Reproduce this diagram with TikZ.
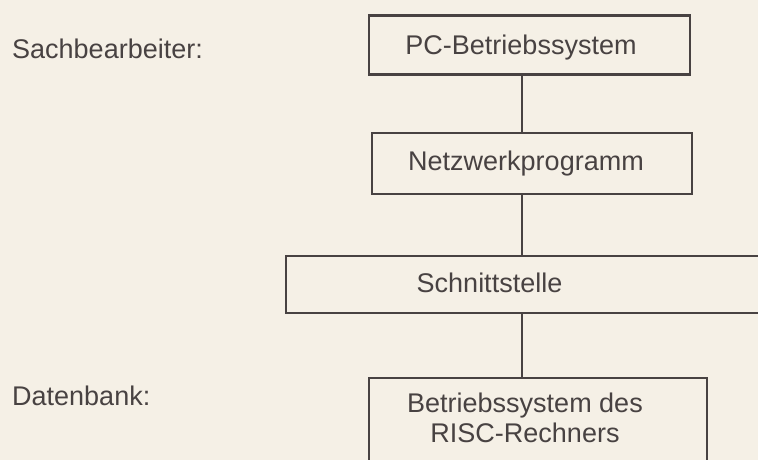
\documentclass[tikz,border=0pt]{standalone}
\usepackage{fontspec}
\setmainfont{Liberation Sans}
\definecolor{paper}{RGB}{245,240,230}
\definecolor{ink}{RGB}{72,66,66}
\begin{document}
\begin{tikzpicture}[x=1pt,y=-1pt,
  boxshape/.style={draw=ink,line width=2.2pt,rectangle,inner sep=0pt},
  lbl/.style={text=ink,inner sep=0pt,font=\fontsize{27}{30}\selectfont},
  conn/.style={draw=ink,line width=2pt}]
\useasboundingbox (0,0) rectangle (758,460);
\fill[paper] (0,0) rectangle (758,460);
\clip (0,0) rectangle (758,460);
\coordinate (axis) at (522,0);
\node[boxshape,minimum width=321pt,minimum height=59pt] (b1) at (529.5,45) {};
\node[boxshape,minimum width=320pt,minimum height=61pt] (b2) at (532,163.5) {};
\node[boxshape,minimum width=504pt,minimum height=57pt] (b3) at (538,284.5) {};
\node[boxshape,minimum width=338pt,minimum height=112pt] (b4) at (538,434) {};
\node[lbl,anchor=base] (t1) at (521,54.5) {PC-Betriebssystem};
\node[lbl,anchor=base] (t2) at (526,170) {Netzwerkprogramm};
\node[lbl,anchor=base] (t3) at (489.5,292) {Schnittstelle};
\node[lbl,align=center] (t4) at (525,418) {Betriebssystem des\\RISC-Rechners};
\node[lbl,anchor=base west] (s1) at (12,59) {Sachbearbeiter:};
\node[lbl,anchor=base west] (s2) at (12,405) {Datenbank:};
\draw[conn] (b1.south -| axis) -- (b2.north -| axis);
\draw[conn] (b2.south -| axis) -- (b3.north -| axis);
\draw[conn] (b3.south -| axis) -- (b4.north -| axis);
\end{tikzpicture}
\end{document}
